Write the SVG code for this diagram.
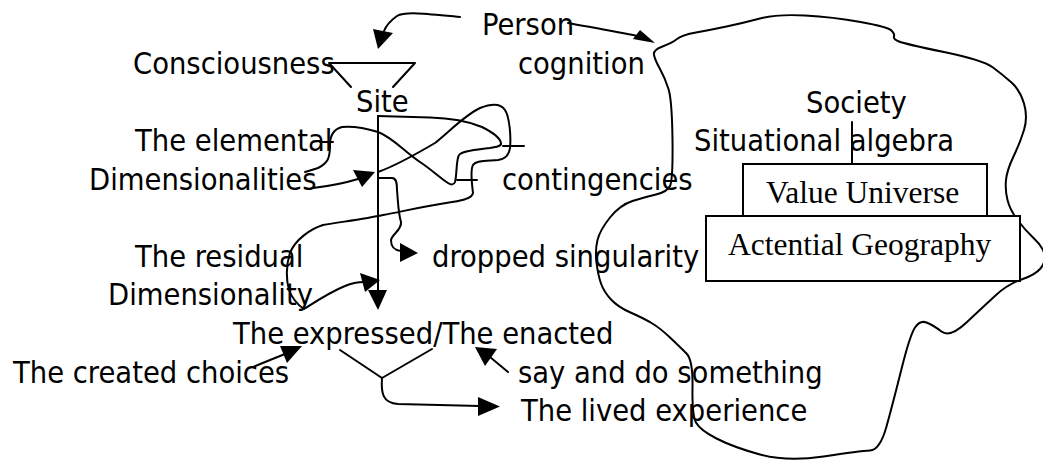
<svg xmlns="http://www.w3.org/2000/svg" width="1043" height="464" viewBox="0 0 1043 464">
  <style>
    .t { font-family: "DejaVu Sans Condensed", "DejaVu Sans", sans-serif; font-stretch: condensed; font-size: 30.5px; fill: #000; }
    .s { font-family: "Liberation Serif", serif; font-size: 31.5px; fill: #000; }
    .ln { fill: none; stroke: #000; stroke-width: 2; stroke-linejoin: round; stroke-linecap: round; }
    .hd { fill: #000; stroke: none; }
    .box { fill: #fff; stroke: #000; stroke-width: 2; }
  </style>
  <rect width="1043" height="464" fill="#fff"/>

  <!-- society outline -->
  <g id="society-region">
    <path class="ln" d="M654,55 Q653,50 662.5,46.5 Q672,43 677,39 Q682,35 696,32.5 Q710,30 726.5,26.5 Q743,23 760,18.5 Q777,14 805,15.5 Q833,17 860.5,22 Q888,27 891.5,30.5 Q895,34 894,36.5 Q893,39 899,41.5 Q905,44 944,52 Q983,60 993,67.5 Q1003,75 1011.5,82.5 Q1020,90 1024,103.5 Q1028,117 1024,130 Q1020,143 1013.5,156.5 Q1007,170 1006,180 Q1005,190 1007.5,200 Q1010,210 1017.5,220 Q1025,230 1034,238.5 Q1043,247 1044.5,254.5 Q1046,262 1040.5,268.5 Q1035,275 1021.5,279.5 Q1008,284 995.5,295.5 Q983,307 966.5,322.5 Q950,338 941.5,331.5 Q933,325 926.5,322.5 Q920,320 915,327.5 Q910,335 901.5,369 Q893,403 886.5,426.5 Q880,450 870,450.5 Q860,451 823.5,456.5 Q787,462 760,454.5 Q733,447 716.5,438.5 Q700,430 696,422.5 Q692,415 692.5,387.5 Q693,360 686.5,353.5 Q680,347 670,337.5 Q660,328 651.5,323 Q643,318 630.5,312.5 Q618,307 611,299.5 Q604,292 601,283.5 Q598,275 596.5,262.5 Q595,250 597.5,240 Q600,230 610,217.5 Q620,205 632.5,201 Q645,197 656,194.5 Q667,192 670,186 Q673,180 672.5,140 Q672,100 668.5,89 Q665,78 660,69 Q655,60 654,55 Z"/>
  </g>

  <!-- connectors -->
  <g id="connectors">
    <!-- Person -> Site -->
    <path class="ln" d="M460,17 C430,14 405,11 397,16 C390,21 386,26 384,31"/>
    <polygon class="hd" points="373,29 393,33 378,49"/>
    <!-- Person -> society -->
    <path class="ln" d="M568,23 C595,28 618,32 637,36"/>
    <polygon class="hd" points="633,39 640,30 655,43"/>
    <!-- Consciousness / Site funnel -->
    <path class="ln" d="M329,63 L415,63 L393,87 M329,63 L351,87"/>
    <!-- Site stem -->
    <path class="ln" d="M378,116 L378,292"/>
    <polygon class="hd" points="368,290 387,290 378,310"/>
    <!-- elemental loop -->
    <path class="ln" d="M378,116 L430,117.5 C450,118 470,122 482,127 C492,132 500,138 501,143 C502,146 496,147 490,148 C475,150 462,151 459,155 C456,160 457,175 455,182 C454,185 451,185 448,183 C440,178 432,170 420,162 C405,152 392,137 378,132 C365,128 352,126 342,127 C334,129 330,135 330,145 C330,158 328,163 318,168 C312,170 308,171 305,172"/>
    <path class="ln" d="M320,142 L333,142"/>
    <path class="ln" d="M457,180 L477,180"/>
    <!-- Dimensionalities -> stem -->
    <path class="ln" d="M313,188 C330,186 345,183 358,179"/>
    <polygon class="hd" points="353,170 375,172 362,187"/>
    <!-- residual loop -->
    <path class="ln" d="M378,172 C395,166 418,153 435,143 C450,131 465,115 480,108 C490,104 500,102 505,110 C510,118 511,138 510,148 C509,156 505,159 498,160 C488,161 476,160 473,165 C470,170 472,185 473,193 C472,199 460,201 446,203 C420,207 400,212 383,215 C365,219 340,222 323,225 C310,229 295,240 290,253 C286,265 286,280 289,290 C292,298 298,305 304,309 C315,302 330,292 345,286 C352,283 358,282 364,282"/>
    <polygon class="hd" points="360,273 380,280 365,292"/>
    <path class="ln" d="M503,146 L524,146"/>
    <!-- stem -> dropped singularity -->
    <path class="ln" d="M378,178 L392,178 C396,178 397,182 397,190 C398,200 398,212 401,222 C402,230 392,234 391,240 C391,246 393,250 401,251"/>
    <polygon class="hd" points="400,243 418,253 400,262"/>
    <!-- created choices -> expressed -->
    <path class="ln" d="M253,367 C265,362 275,358 285,354"/>
    <polygon class="hd" points="280,346 302,346 287,363"/>
    <!-- say and do something -> enacted -->
    <path class="ln" d="M508,372 L490,357"/>
    <polygon class="hd" points="475,347 497,349 485,366"/>
    <!-- expressed/enacted -> lived experience -->
    <path class="ln" d="M340,350 L382,378 L432,349 M382,378 C381,392 382,403 398,404 L480,406"/>
    <polygon class="hd" points="478,397 500,406.5 478,416"/>
    <!-- Society -> Value Universe -->
    <path class="ln" d="M852,122 L852,164"/>
  </g>

  <g id="person"><text class="t" x="482" y="35">Person</text><text class="t" x="518" y="74">cognition</text></g>
  <g id="consciousness"><text class="t" x="133" y="74">Consciousness</text></g>
  <g id="site"><text class="t" x="356" y="112">Site</text></g>
  <g id="elemental"><text class="t" x="135" y="151">The elemental</text><text class="t" x="89" y="190">Dimensionalities</text></g>
  <g id="contingencies"><text class="t" x="502" y="190">contingencies</text></g>
  <g id="residual"><text class="t" x="135" y="267">The residual</text><text class="t" x="108" y="305">Dimensionality</text></g>
  <g id="dropped"><text class="t" x="432" y="267">dropped singularity</text></g>
  <g id="expressed"><text class="t" x="233" y="344">The expressed/The enacted</text></g>
  <g id="created"><text class="t" x="13" y="383">The created choices</text></g>
  <g id="say-do"><text class="t" x="518" y="383">say and do something</text></g>
  <g id="lived"><text class="t" x="521" y="421">The lived experience</text></g>
  <g id="society"><text class="t" x="806" y="113">Society</text><text class="t" x="694" y="151">Situational algebra</text></g>
  <g id="value-universe"><rect class="box" x="743" y="164" width="244" height="52"/><text class="s" x="766" y="203">Value Universe</text></g>
  <g id="actential-geography"><rect class="box" x="706" y="216" width="314" height="65"/><text class="s" x="728" y="255">Actential Geography</text></g>
</svg>
